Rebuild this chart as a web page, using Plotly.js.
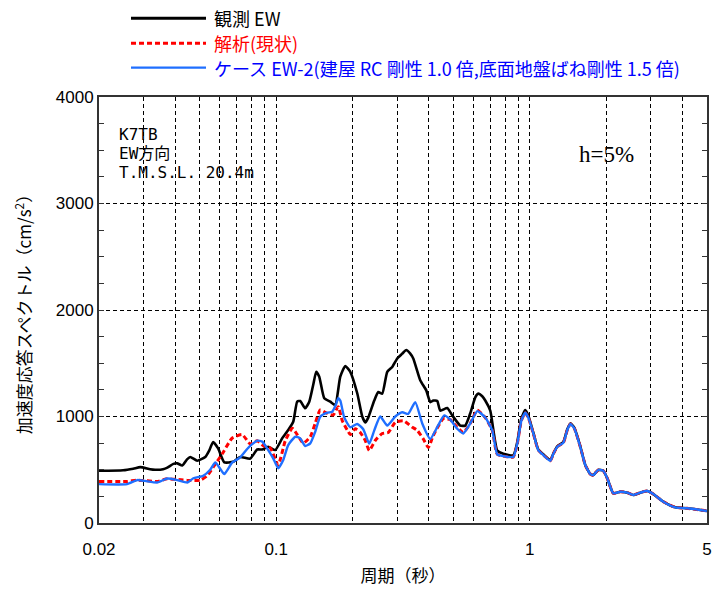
<!DOCTYPE html>
<html>
<head>
<meta charset="utf-8">
<script src="https://cdn.plot.ly/plotly-3.0.1.min.js"></script>
<style>html,body{margin:0;padding:0;background:#fff;}#chart{width:715px;height:590px;}</style>
</head>
<body>
<div id="chart"></div>
<script>
// ---- data (period in s, spectral acceleration in cm/s^2) ----
const periodObs = [0.02,0.0249,0.0273,0.0291,0.0318,0.0333,0.0358,0.0372,0.0393,0.0407,
  0.0426,0.0446,0.0458,0.0488,0.0525,0.0544,0.0564,0.059,0.0624,0.0677,
  0.0721,0.079,0.0841,0.0881,0.093,0.0991,0.1056,0.1115,0.1167,0.121,
  0.1244,0.1301,0.135,0.14,0.1438,0.1478,0.1547,0.1633,0.1709,0.1789,
  0.1872,0.1959,0.2087,0.2184,0.2245,0.2307,0.2436,0.2526,0.2619,0.2741,
  0.2868,0.3002,0.3141,0.3257,0.3378,0.3471,0.3698,0.3906,0.4051,0.4162,
  0.4316,0.4435,0.4727,0.4947,0.5319,0.5566,0.5825,0.6095,0.6263,0.6495,
  0.6675,0.6985,0.7443,0.7861,0.861,0.8929,0.9259,0.9598,0.9865,1.032,
  1.08,1.131,1.205,1.238,1.284,1.356,1.406,1.445,1.498,1.582,
  1.655,1.732,1.78,1.863,1.949,2.021,2.135,2.275,2.424,2.56,
  2.729,2.908,3.07,3.363,3.75,4.181,4.707,5.0];
const accObs = [490,495,510,525,505,500,505,520,555,560,
  540,600,620,585,620,680,760,700,570,575,
  620,605,690,690,716,685,795,873,950,1140,
  1145,1077,1139,1300,1420,1374,1171,1139,1108,1374,
  1474,1420,1218,1000,945,990,1150,1230,1215,1420,
  1465,1545,1590,1625,1590,1545,1340,1245,1135,1150,
  1145,1055,1080,1010,915,915,1030,1180,1215,1190,
  1150,1055,680,650,635,760,980,1060,1010,850,
  690,645,590,650,720,760,880,935,895,720,
  545,460,450,498,491,420,279,294,285,263,
  285,300,272,200,147,138,122,113];

const periodAna = [0.02,0.0258,0.0283,0.0339,0.0372,0.0446,0.0502,0.0534,0.0575,0.0612,
  0.0671,0.0734,0.079,0.0841,0.0889,0.0947,0.1018,0.1085,0.1157,0.121,
  0.1278,0.1362,0.1425,0.1491,0.1589,0.1678,0.1756,0.1822,0.1906,0.1959,
  0.205,0.2145,0.2245,0.2328,0.2458,0.2619,0.2766,0.2948,0.317,0.344,
  0.3599,0.3801,0.3978,0.4162,0.4558,0.4857,0.5176,0.5466,0.5825,0.6207,
  0.6675,0.7113,0.7443,0.8006,0.861,0.8929,0.9259,0.9598,0.9865,1.032,
  1.08,1.131,1.205,1.238,1.284,1.356,1.406,1.445,1.498,1.582,
  1.655,1.732,1.78,1.863,1.949,2.021,2.135,2.275,2.424,2.56,
  2.729,2.908,3.07,3.363,3.75,4.181,4.707,5.0];
const accAna = [390,390,403,390,415,400,403,443,553,648,
  798,830,742,773,726,705,545,770,889,830,
  750,810,936,1061,1030,1014,1092,960,873,830,
  885,850,775,680,775,840,850,945,960,900,
  870,790,710,820,980,970,900,850,935,1060,
  990,870,645,625,620,745,960,1035,990,845,
  685,638,585,648,716,754,873,929,889,716,
  545,460,450,498,491,420,279,294,285,263,
  285,300,272,200,147,138,122,113];

const periodCase = [0.02,0.0258,0.0283,0.0304,0.0339,0.0372,0.0407,0.0446,0.0471,0.0515,
  0.0549,0.0575,0.0601,0.0624,0.0671,0.0721,0.0768,0.0804,0.0841,0.0881,
  0.093,0.0973,0.1018,0.1066,0.1115,0.1189,0.1244,0.1301,0.1362,0.1425,
  0.1491,0.1589,0.1663,0.1725,0.1756,0.1789,0.1855,0.1959,0.2087,0.2204,
  0.2328,0.2436,0.2572,0.2741,0.2948,0.3141,0.3317,0.3534,0.3766,0.4051,
  0.4316,0.4599,0.4857,0.5176,0.5466,0.5825,0.6207,0.6675,0.7113,0.7443,
  0.8006,0.861,0.8929,0.9259,0.9598,0.9865,1.032,
  1.08,1.131,1.205,1.238,1.284,1.356,1.406,1.445,1.498,1.582,
  1.655,1.732,1.78,1.863,1.949,2.021,2.135,2.275,2.424,2.56,
  2.729,2.908,3.07,3.363,3.75,4.181,4.707,5.0];
const accCase = [365,365,403,395,380,418,403,380,420,443,
  500,569,510,459,569,616,695,740,773,764,
  685,607,514,592,732,810,795,723,748,857,
  998,1036,1045,1120,1171,1150,990,899,930,880,
  745,870,1000,915,1000,1040,1025,1135,935,790,
  900,1010,970,885,840,935,1050,990,870,645,
  625,620,745,960,1035,990,845,
  685,638,585,648,716,754,873,929,889,716,
  545,460,450,498,491,420,279,294,285,263,
  285,300,272,200,147,138,122,113];

const seriesNames = ['観測 EW', '解析(現状)', 'ケース EW-2(建屋 RC 剛性 1.0 倍,底面地盤ばね剛性 1.5 倍)'];
const xTickVals = [0.02, 0.1, 1, 5];
const xTickText = ['0.02', '0.1', '1', '5'];
const xMinorGridVals = [0.03,0.04,0.05,0.06,0.07,0.08,0.09,0.2,0.3,0.4,0.5,0.6,0.7,0.8,0.9,2,3,4];
const yTickVals = [0,1000,2000,3000,4000];
const noteLines = ['K7TB', 'EW方向', 'T.M.S.L. 20.4m'];
const dampingText = 'h=5%';

// ---- styling ----
const cjk = 'Noto Sans CJK JP, sans-serif';
const mono = 'DejaVu Sans Mono, Noto Sans CJK JP, monospace';
const colBlack = '#000000', colRed = '#ff0000', colBlue = '#1f6fff';
const textColors = ['#000000', '#ff0000', '#0000ff'];
const gridDash = '4px,3px';
const lineStyles = [
  {color: colBlack, width: 2.6, shape: 'spline', smoothing: 0.5},
  {color: colRed, width: 3, dash: '5px,3px', shape: 'spline', smoothing: 0.5},
  {color: colBlue, width: 2.4, shape: 'spline', smoothing: 0.5}
];
const legendLineStyles = [
  {color: colBlack, width: 3},
  {color: colRed, width: 3, dash: '5px,3px'},
  {color: colBlue, width: 2.2}
];

const traces = [
  {x: periodObs, y: accObs, name: seriesNames[0]},
  {x: periodAna, y: accAna, name: seriesNames[1]},
  {x: periodCase, y: accCase, name: seriesNames[2]}
].map((t, i) => Object.assign(t, {type: 'scatter', mode: 'lines', line: lineStyles[i], showlegend: false, hoverinfo: 'skip'}));

// plot area in px (for paper-coordinate placement of legend/notes)
const W = 715, H = 590, mL = 99, mR = 8, mT = 97, mB = 67;
const pw = W - mL - mR, ph = H - mT - mB;
const px = v => (v - mL) / pw;
const py = v => (H - mB - v) / ph;

const shapes = [];
const annotations = [];
const legendY = [18.3, 43.3, 67.7];
seriesNames.forEach((n, i) => {
  shapes.push({type: 'line', xref: 'paper', yref: 'paper', x0: px(131), x1: px(206), y0: py(legendY[i]), y1: py(legendY[i]),
    line: legendLineStyles[i]});
  annotations.push({xref: 'paper', yref: 'paper', x: px(212), y: py(legendY[i]), xanchor: 'left', yanchor: 'middle',
    text: n, showarrow: false, font: {family: cjk, size: 18, color: textColors[i]}});
});
const noteY = [134, 153, 172];
noteLines.forEach((t, i) => {
  annotations.push({xref: 'paper', yref: 'paper', x: px(117), y: py(noteY[i]), xanchor: 'left', yanchor: 'middle',
    text: t, showarrow: false, font: {family: mono, size: 16, color: '#000'}});
});
annotations.push({xref: 'paper', yref: 'paper', x: px(606), y: py(154), xanchor: 'center', yanchor: 'middle',
  text: dampingText, showarrow: false, font: {family: 'Liberation Serif, Times New Roman, serif', size: 23, color: '#000'}});

const layout = {
  width: W, height: H,
  margin: {l: mL, r: mR, t: mT, b: mB, pad: 0},
  paper_bgcolor: '#fff', plot_bgcolor: '#fff',
  showlegend: false,
  font: {family: 'Liberation Sans, Arial, sans-serif', size: 17, color: '#000'},
  xaxis: {
    type: 'log', range: [Math.log10(0.02), Math.log10(5)],
    tickmode: 'array', tickvals: xTickVals, ticktext: xTickText,
    ticks: '', ticklabelstandoff: 10, showgrid: true, gridcolor: '#000', gridwidth: 1, griddash: gridDash,
    minor: {tickmode: 'array', tickvals: xMinorGridVals, ticks: '', showgrid: true, gridcolor: '#000', gridwidth: 1, griddash: gridDash},
    showline: true, mirror: true, linecolor: '#333', linewidth: 2, zeroline: false,
    tickfont: {family: 'Liberation Sans, Arial, sans-serif', size: 17},
    title: {text: '周期（秒）', font: {family: cjk, size: 17}, standoff: 12}
  },
  yaxis: {
    range: [0, 4000], tickmode: 'array', tickvals: yTickVals,
    ticks: 'inside', ticklen: 0, showgrid: true, gridcolor: '#000', gridwidth: 1, griddash: gridDash,
    minor: {dtick: 250, ticks: 'inside', ticklen: 5, tickwidth: 1, tickcolor: '#333', showgrid: false},
    showline: true, mirror: 'allticks', linecolor: '#333', linewidth: 2, zeroline: false,
    tickfont: {family: 'Liberation Sans, Arial, sans-serif', size: 17},
    title: {text: '加速度応答スペクトル（cm/s<sup>2</sup>）', font: {family: cjk, size: 17}, standoff: 20}
  },
  shapes: shapes,
  annotations: annotations
};

Plotly.newPlot('chart', traces, layout, {staticPlot: true, displayModeBar: false});
</script>
</body>
</html>
